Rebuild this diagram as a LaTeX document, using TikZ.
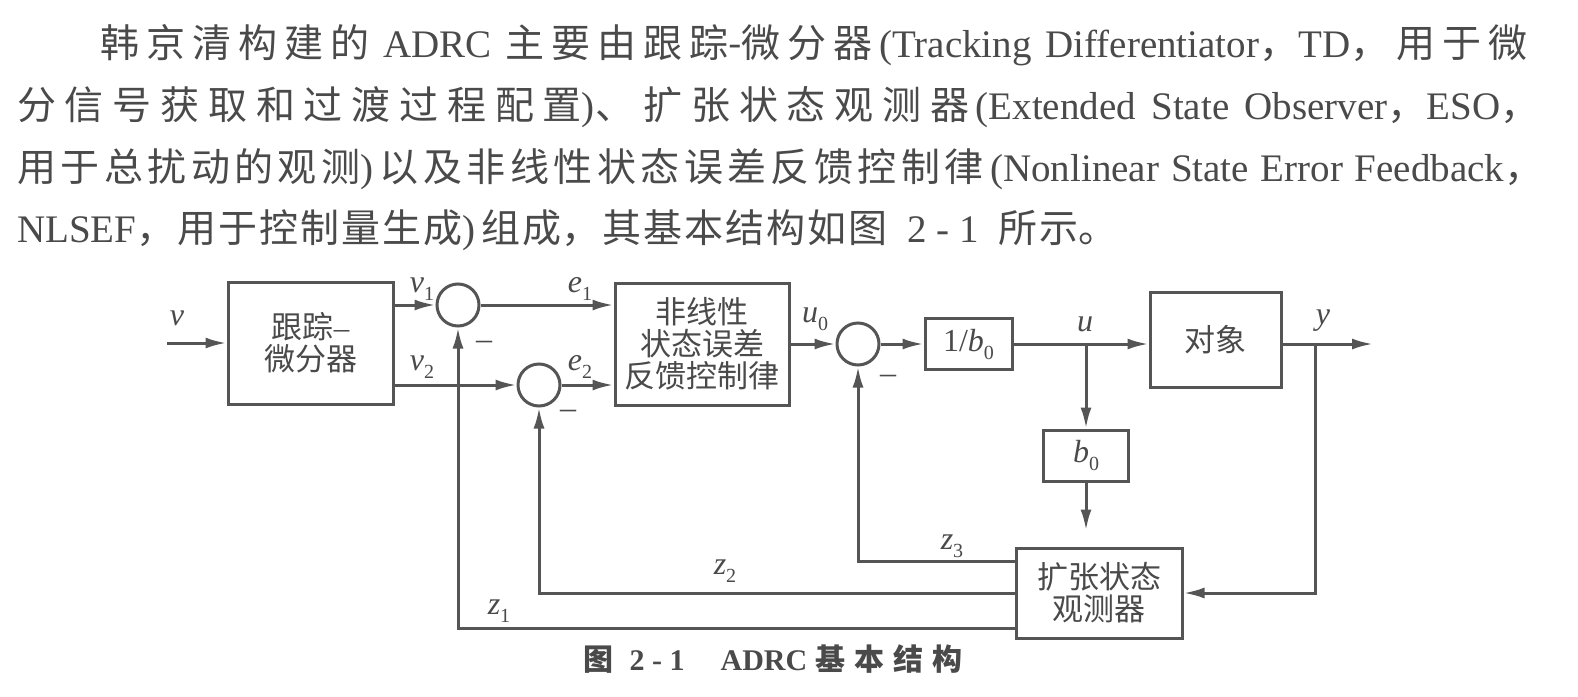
\documentclass[tikz,border=0pt]{standalone}
\usepackage{fontspec}
\setmainfont{Liberation Serif}
\newfontfamily\cjk{Noto Sans CJK SC}
\usetikzlibrary{arrows.meta}
\definecolor{lc}{HTML}{555555}
\definecolor{tc}{HTML}{4A4A4A}
\XeTeXlinebreaklocale "zh"
\XeTeXlinebreakskip=2pt plus 6pt
\newcommand\vsub[2]{\textit{#1}\raisebox{-0.25em}{\fontsize{20}{20}\selectfont #2}}
\tikzset{
  blk/.style={draw=lc, line width=3pt, rectangle, inner sep=0pt, align=center, text=tc, font=\cjk\fontsize{31}{32}\selectfont},
  sumc/.style={draw=lc, line width=3pt, circle, minimum size=42pt, inner sep=0pt},
  lbl/.style={text=tc, inner sep=0pt, font=\fontsize{32}{32}\selectfont},
  sig/.style={draw=lc, line width=3pt, -{Latex[length=21pt,width=11pt]}},
  para/.style={anchor=west, inner sep=0pt, text=tc, font=\fontsize{39}{46}\selectfont, align=justify},
}
\begin{document}
\begin{tikzpicture}[x=1pt,y=-1pt]
\useasboundingbox (0,0) rectangle (1578,696);
\fill[white] (0,0) rectangle (1578,696);

% paragraph
\node[para, text width=1427pt] (p1) at (100,45) {\parfillskip=0pt {\cjk 韩京清构建的} ADRC {\cjk 主要由跟踪-微分器}\,(Tracking Differentiator{\cjk ，}TD{\cjk ，用于微}\par};
\node[para, text width=1522pt] (p2) at (17,107) {\parfillskip=0pt {\cjk 分信号获取和过渡过程配置})\kern1pt{\cjk 、扩张状态观测器}\,(Extended State Observer{\cjk ，}ESO{\cjk ，}\par};
\node[para, text width=1526pt] (p3) at (17,169) {\parfillskip=0pt {\cjk 用于总扰动的观测})\,{\cjk 以及非线性状态误差反馈控制律}\,(Nonlinear State Error Feedback{\cjk ，}\par};
\node[para, text width=1510pt] (p4) at (17,230) {NLSEF{\cjk ，用于控制量生成})\,{\cjk 组成，其基本结构如图}\ \ 2 - 1\ \ {\cjk 所示。}\par};

% blocks
\node[blk, minimum width=165pt, minimum height=122pt] (td) at (310.5,343) {跟踪{\rmfamily –}\\微分器};
\node[blk, minimum width=174pt, minimum height=122pt] (nl) at (702,344) {非线性\\状态误差\\反馈控制律};
\node[blk, minimum width=87pt, minimum height=51pt, font=\rmfamily\fontsize{32}{32}\selectfont] (b1) at (968.5,344) {1/\vsub{b}{0}};
\node[blk, minimum width=131pt, minimum height=95pt] (pl) at (1215.5,339.5) {对象};
\node[blk, minimum width=85pt, minimum height=51pt, font=\rmfamily\fontsize{32}{32}\selectfont] (b0) at (1086,455.5) {\vsub{b}{0}};
\node[blk, minimum width=166pt, minimum height=90pt] (eso) at (1099,593) {扩张状态\\观测器};

% summing junctions
\node[sumc] (s1) at (458,305) {};
\node[sumc] (s2) at (539,385) {};
\node[sumc] (s3) at (858,344) {};

\coordinate (vin) at (167,343);
\coordinate (ju) at (1086,344);
\coordinate (jy) at (1315,344);
\coordinate (yout) at (1373,344);

% connectors
\draw[sig] (vin) -- (td.west);
\draw[sig] (td.east |- s1) -- (s1.west);
\draw[sig] (s1.east) -- (nl.west |- s1);
\draw[sig] (td.east |- s2) -- (s2.west);
\draw[sig] (s2.east) -- (nl.west |- s2);
\draw[sig] (nl.east |- s3) -- (s3.west);
\draw[sig] (s3.east) -- (b1.west);
\draw[sig] (b1.east) -- (pl.west |- b1);
\draw[sig] (ju) -- (b0.north);
\draw[sig, shorten >=16pt] (b0.south) -- (b0.south |- eso.north);
\draw[sig] (pl.east |- ju) -- (yout);
\draw[sig] (jy) |- (eso.east);
\draw[sig] ([yshift=32pt]eso.west) -| (s3.south);
\draw[sig] (eso.west) -| (s2.south);
\draw[sig] ([yshift=-35pt]eso.west) -| (s1.south);

% labels
\node[lbl] (lv) at (177,318) {\textit{v}};
\node[lbl] (lv1) at (422,289) {\vsub{v}{1}};
\node[lbl] (lv2) at (422,367) {\vsub{v}{2}};
\node[lbl] (le1) at (580,289) {\vsub{e}{1}};
\node[lbl] (le2) at (580,367) {\vsub{e}{2}};
\node[lbl] (lu0) at (815,319) {\vsub{u}{0}};
\node[lbl] (lu) at (1085,324) {\textit{u}};
\node[lbl] (ly) at (1323,321) {\textit{y}};
\node[lbl] (lz3) at (952,546) {\vsub{z}{3}};
\node[lbl] (lz2) at (725,571) {\vsub{z}{2}};
\node[lbl] (lz1) at (499,611) {\vsub{z}{1}};
\node[lbl] (m1) at (484,345) {–};
\node[lbl] (m2) at (568,414) {–};
\node[lbl] (m3) at (888,379) {–};

% caption
\node[text=tc, inner sep=0pt, font=\bfseries\fontsize{30}{30}\selectfont] (cap) at (773,659) {{\cjk 图}\hspace{16pt}2 - 1\hspace{36pt}ADRC\hspace{8pt}{\cjk 基\hspace{9pt}本\hspace{9pt}结\hspace{9pt}构}};
\end{tikzpicture}
\end{document}
